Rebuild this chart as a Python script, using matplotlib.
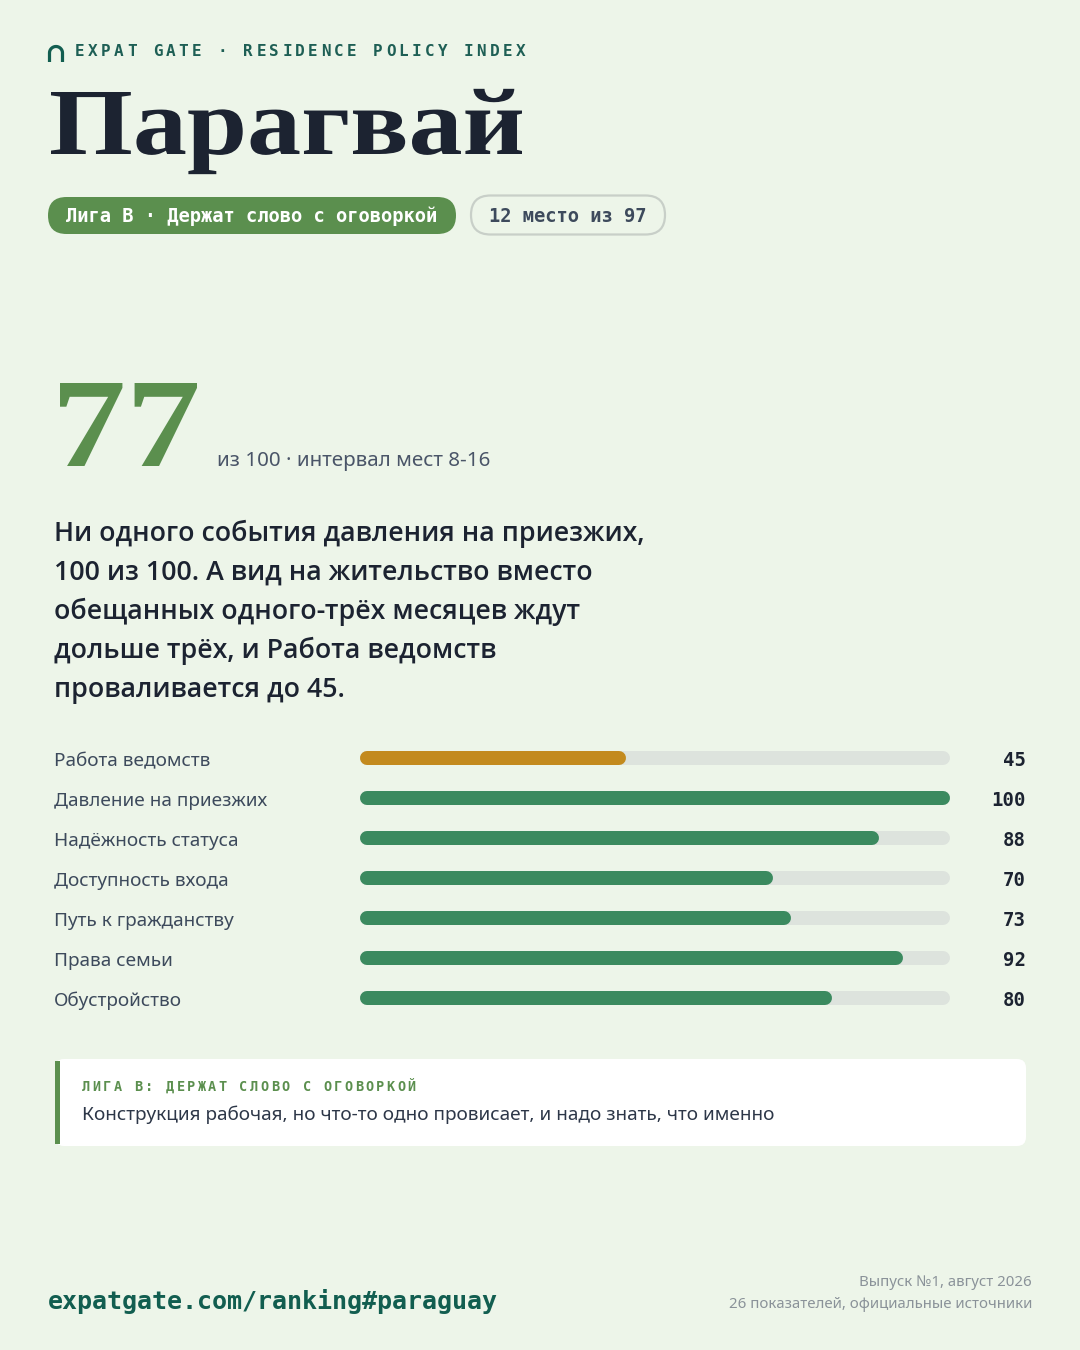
import matplotlib
matplotlib.use("Agg")
import matplotlib.pyplot as plt
from matplotlib.patches import FancyBboxPatch, Rectangle, PathPatch
from matplotlib.textpath import TextPath
from matplotlib.font_manager import FontProperties, fontManager
from matplotlib.transforms import Affine2D
import numpy as np

# data
country = "Парагвай"
score = 77
league = "Лига B · Держат слово с оговоркой"
rank_text = "12 место из 97"
sub_text = "из 100 · интервал мест 8-16"
summary = ["Ни одного события давления на приезжих,",
           "100 из 100. А вид на жительство вместо",
           "обещанных одного-трёх месяцев ждут",
           "дольше трёх, и Работа ведомств",
           "проваливается до 45."]
categories = ["Работа ведомств", "Давление на приезжих", "Надёжность статуса",
              "Доступность входа", "Путь к гражданству", "Права семьи", "Обустройство"]
values = [45, 100, 88, 70, 73, 92, 80]
weak = [True, False, False, False, False, False, False]
callout_title = "ЛИГА B: ДЕРЖАТ СЛОВО С ОГОВОРКОЙ"
callout_text = "Конструкция рабочая, но что-то одно провисает, и надо знать, что именно"
url = "expatgate.com/ranking#paraguay"
footer_lines = ["Выпуск №1, август 2026", "26 показателей, официальные источники"]

BG = "#edf5e9"
INK = "#1c2331"
GREEN = "#5b8f4e"
BAR_GREEN = "#3b8a5f"
BAR_WEAK = "#c38a1e"
TRACK = "#dde3dd"
TEAL = "#125e50"
GREY = "#4a5568"

W, H = 1080, 1350
PT = 0.72  # px -> pt at dpi 100

MONO = ["DejaVu Sans Mono"]
SANS = ["Noto Sans", "DejaVu Sans"]


def pick_semibold():
    for fam in ["Noto Sans", "Open Sans", "Inter"]:
        ws = [f.weight for f in fontManager.ttflist if f.name == fam]
        for w in ws:
            if w in (500, 600, "medium", "semibold", "demibold"):
                return [fam, "DejaVu Sans"], w
    return SANS, "bold"


SEMI, SEMI_W = pick_semibold()

fig = plt.figure(figsize=(W / 100, H / 100), dpi=100, facecolor=BG)
ax = fig.add_axes([0, 0, 1, 1])
ax.set_xlim(0, W)
ax.set_ylim(H, 0)
ax.axis("off")


def spaced(x, y, s, step, **kw):
    for i, ch in enumerate(s):
        ax.text(x + i * step, y, ch, **kw)


def fit_text(s, left, right, top, base, color, family, cap="П"):
    # draw text as a path, scaled to span left..right and cap top..baseline
    fp = FontProperties(family=family, weight="bold")
    tp = TextPath((0, 0), s, size=100, prop=fp)
    cp = TextPath((0, 0), cap, size=100, prop=fp)
    ext = tp.get_extents()
    cap_h = cp.get_extents().y1
    sx = (right - left) / ext.width
    sy = (base - top) / cap_h
    tr = Affine2D().translate(-ext.x0, 0).scale(sx, -sy).translate(left, base)
    ax.add_patch(PathPatch(tr.transform_path(tp), fc=color, ec="none"))


# logo arch
t = np.linspace(np.pi, 0, 40)
lx = np.r_[49.5, 56 + 6.5 * np.cos(t), 62.5]
ly = np.r_[62, 53 - 6.5 * np.sin(t), 62]
ax.plot(lx, ly, color=TEAL, lw=3.2 * PT, solid_capstyle="butt", solid_joinstyle="round")

# header
spaced(75, 51, "EXPAT GATE · RESIDENCE POLICY INDEX", 12.95, fontsize=16 * PT,
       family=MONO, weight="bold", color="#1e5f55", va="center", ha="left")

# title
fit_text(country, 51, 522, 92, 154, INK, ["Liberation Serif", "DejaVu Serif"])

# badges
ax.add_patch(FancyBboxPatch((48, 197), 408, 37, boxstyle="round,pad=0,rounding_size=18.5",
                            fc=GREEN, ec="none"))
ax.text(252, 216, league, fontsize=18.8 * PT, family=MONO, weight="bold",
        color="white", va="center", ha="center")
ax.add_patch(FancyBboxPatch((471, 195.5), 194, 39, boxstyle="round,pad=0,rounding_size=19.5",
                            fc=BG, ec="#c8cfc8", lw=1.6))
ax.text(568, 216, rank_text, fontsize=18.8 * PT, family=MONO, weight="bold",
        color="#3d4a5c", va="center", ha="center")

# score
fit_text(str(score), 60, 197, 383, 466, GREEN, ["Liberation Serif", "DejaVu Serif"], cap="7")
ax.text(217, 466, sub_text, fontsize=20.6 * PT, family=SANS, color=GREY,
        va="baseline", ha="left")

# summary
for i, line in enumerate(summary):
    ax.text(54, 541 + 39 * i, line, fontsize=26.8 * PT, family=SEMI, weight=SEMI_W,
            color=INK, va="baseline", ha="left")

# bars (own axes, 0..100 scale)
x0, x1 = 360, 950
row0, gap = 758, 40
n = len(categories)
top = row0 - gap / 2
bot = row0 + gap * (n - 1) + gap / 2
bax = fig.add_axes([x0 / W, 1 - bot / H, (x1 - x0) / W, (bot - top) / H])
bax.set_xlim(0, 100)
bax.set_ylim(n - 0.5, -0.5)
bax.axis("off")
bar_px = 14
r = (bar_px / 2) / ((x1 - x0) / 100)
for i, (cat, v, w) in enumerate(zip(categories, values, weak)):
    bax.plot([r, 100 - r], [i, i], color=TRACK, lw=bar_px * PT, solid_capstyle="round")
    bax.plot([r, v - r], [i, i], color=BAR_WEAK if w else BAR_GREEN,
             lw=bar_px * PT, solid_capstyle="round")
    y = row0 + gap * i
    ax.text(54, y + 3, cat, fontsize=19 * PT, family=SANS, color="#3d4a5c",
            va="center", ha="left")
    ax.text(1026, y + 2, str(v), fontsize=19 * PT, family=MONO, weight="bold",
            color=INK, va="center", ha="right")

# callout
ax.add_patch(FancyBboxPatch((55, 1059), 971, 87, boxstyle="round,pad=0,rounding_size=9",
                            fc="white", ec="none"))
ax.add_patch(Rectangle((55, 1061), 5, 83, fc=GREEN, ec="none"))
spaced(82, 1087, callout_title, 10.5, fontsize=13.5 * PT, family=MONO, weight="bold",
       color=GREEN, va="center", ha="left")
ax.text(82, 1115, callout_text, fontsize=19 * PT, family=SANS, color="#2d3748",
        va="center", ha="left")

# footer
ax.text(48, 1301, url, fontsize=25 * PT, family=MONO, weight="bold",
        color=TEAL, va="center", ha="left")
ax.text(1032, 1282, footer_lines[0], fontsize=15 * PT, family=SANS, color="#8a9299",
        va="center", ha="right")
ax.text(1032, 1305, footer_lines[1], fontsize=15 * PT, family=SANS, color="#8a9299",
        va="center", ha="right")

fig.savefig("out.png", dpi=100, facecolor=BG)
